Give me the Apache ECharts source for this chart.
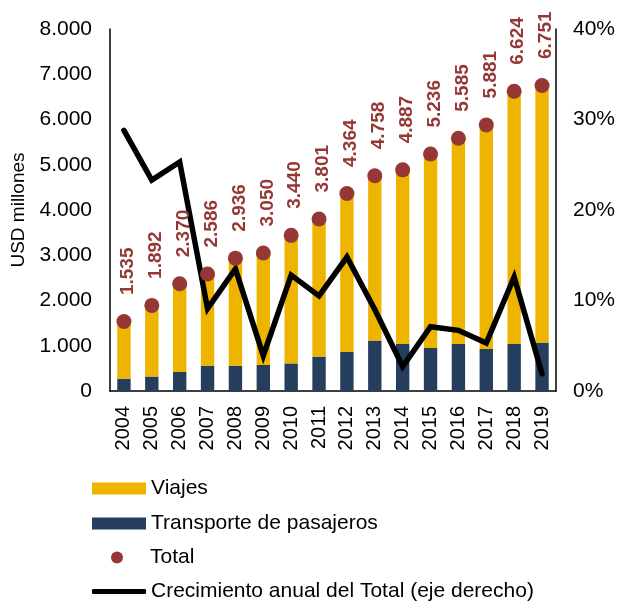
<!DOCTYPE html>
<html>
<head>
<meta charset="utf-8">
<script src="https://cdn.jsdelivr.net/npm/echarts@6/dist/echarts.min.js"></script>
<style>
  html, body { margin: 0; padding: 0; background: #fff; }
  #chart { width: 618px; height: 602px; }
</style>
</head>
<body>
<div id="chart"></div>
<script>
// Años del eje de categorías
const years = ['2004','2005','2006','2007','2008','2009','2010','2011','2012','2013','2014','2015','2016','2017','2018','2019'];
// Transporte de pasajeros (USD millones)
const transporte = [270, 320, 420, 560, 560, 575, 610, 760, 870, 1115, 1040, 950, 1040, 930, 1040, 1070];
// Viajes (USD millones)
const viajes = [1265, 1572, 1950, 2026, 2376, 2475, 2830, 3041, 3494, 3643, 3847, 4286, 4545, 4951, 5584, 5681];
// Total (USD millones)
const total = [1535, 1892, 2370, 2586, 2936, 3050, 3440, 3801, 4364, 4758, 4887, 5236, 5585, 5881, 6624, 6751];
// Crecimiento anual del Total (%)
const crecimiento = [28.8, 23.3, 25.3, 9.1, 13.5, 3.9, 12.8, 10.5, 14.8, 9.0, 2.7, 7.1, 6.7, 5.3, 12.6, 1.9];
// Marcas de los ejes
const leftTicks = { min: 0, max: 8000, interval: 1000 };
const rightTicks = { min: 0, max: 40, interval: 10 };

const FONT = 'Liberation Sans, Arial, sans-serif';
const GOLD = '#EEB500';
const NAVY = '#253E5D';
const RED = '#953735';

function miles(v) {
  return String(v).replace(/\B(?=(\d{3})+(?!\d))/g, '.');
}

const chart = echarts.init(document.getElementById('chart'), null, { renderer: 'canvas' });

// Una leyenda por fila para fijar cada posición vertical
function legendAt(item, top, extra) {
  return Object.assign({
    left: 92,
    top: top,
    padding: 0,
    itemWidth: 54,
    itemHeight: 12,
    itemGap: 0,
    selectedMode: false,
    textStyle: { fontFamily: FONT, fontSize: 21, color: '#000' },
    data: [item]
  }, extra || {});
}

chart.setOption({
  animation: false,
  backgroundColor: '#fff',
  grid: { left: 110, right: 62, top: 29, bottom: 211, containLabel: false },
  legend: [
    legendAt({ name: 'Viajes', icon: 'rect' }, 478),
    legendAt({ name: 'Transporte de pasajeros', icon: 'rect' }, 513),
    legendAt({ name: 'Total', icon: 'circle' }, 547, {
      left: 111, itemWidth: 12,
      textStyle: { fontFamily: FONT, fontSize: 21, color: '#000', padding: [0, 0, 0, 22] }
    }),
    legendAt({ name: 'Crecimiento anual del Total (eje derecho)', icon: 'roundRect', itemStyle: { color: '#000' } }, 581, {
      itemHeight: 5
    })
  ],
  xAxis: {
    type: 'category',
    data: years,
    axisLine: { show: true, lineStyle: { color: '#000', width: 1.5 } },
    axisTick: { show: false },
    axisLabel: { rotate: 90, margin: 15, fontFamily: FONT, fontSize: 20, color: '#000' }
  },
  yAxis: [
    {
      type: 'value',
      min: leftTicks.min, max: leftTicks.max, interval: leftTicks.interval,
      name: 'USD millones',
      nameLocation: 'middle',
      nameGap: 78,
      nameTextStyle: { fontFamily: FONT, fontSize: 19, color: '#000' },
      axisLine: { show: true, lineStyle: { color: '#000', width: 1.5 } },
      axisTick: { show: false },
      splitLine: { show: false },
      axisLabel: { margin: 18, fontFamily: FONT, fontSize: 21, color: '#000', formatter: v => miles(v) }
    },
    {
      type: 'value',
      min: rightTicks.min, max: rightTicks.max, interval: rightTicks.interval,
      position: 'right',
      axisLine: { show: true, lineStyle: { color: '#000', width: 1.5 } },
      axisTick: { show: false },
      splitLine: { show: false },
      axisLabel: { margin: 17, fontFamily: FONT, fontSize: 21, color: '#000', formatter: '{value}%' }
    }
  ],
  series: [
    {
      name: 'Transporte de pasajeros',
      type: 'bar',
      stack: 'exp',
      barWidth: '48%',
      itemStyle: { color: NAVY },
      data: transporte,
      z: 2
    },
    {
      name: 'Viajes',
      type: 'bar',
      stack: 'exp',
      barWidth: '48%',
      itemStyle: { color: GOLD },
      data: viajes,
      z: 2
    },
    {
      name: 'Crecimiento anual del Total (eje derecho)',
      type: 'line',
      yAxisIndex: 1,
      symbol: 'none',
      lineStyle: { color: '#000', width: 5.5, join: 'miter', cap: 'round' },
      itemStyle: { color: '#000' },
      data: crecimiento,
      z: 4
    },
    {
      name: 'Total',
      type: 'scatter',
      symbol: 'circle',
      symbolSize: 15,
      itemStyle: { color: RED, opacity: 1 },
      data: total,
      z: 5,
      label: {
        show: true,
        position: 'top',
        distance: 19,
        rotate: 90,
        align: 'left',
        verticalAlign: 'middle',
        offset: [0, 4],
        fontFamily: FONT,
        fontSize: 19,
        fontWeight: 'bold',
        color: RED,
        formatter: p => miles(p.value)
      }
    }
  ]
});
</script>
</body>
</html>
